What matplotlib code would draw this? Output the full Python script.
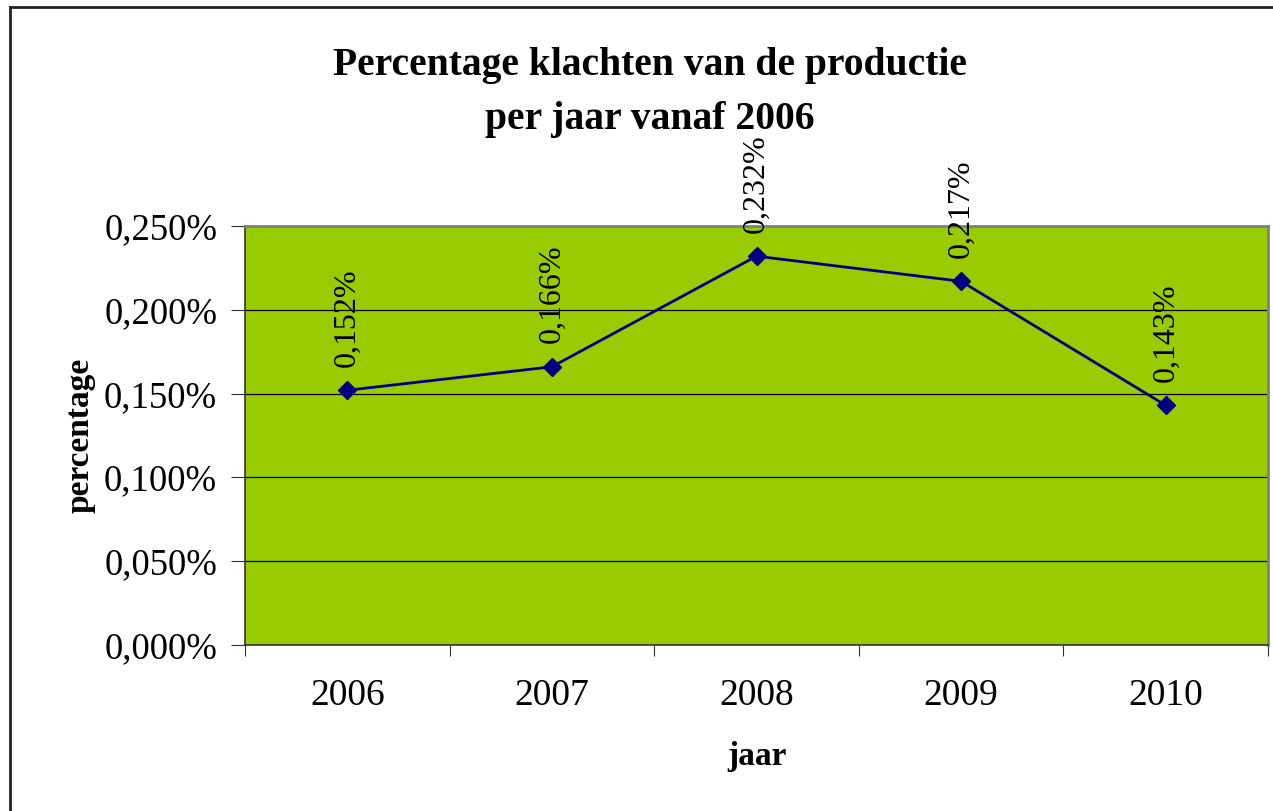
import matplotlib.pyplot as plt
from matplotlib.lines import Line2D

plt.rcParams['font.family'] = ['Liberation Serif', 'DejaVu Serif']

jaren = ['2006', '2007', '2008', '2009', '2010']
percentages = [0.152, 0.166, 0.232, 0.217, 0.143]
labels = ['0,152%', '0,166%', '0,232%', '0,217%', '0,143%']
yticks = [0.0, 0.05, 0.10, 0.15, 0.20, 0.25]
ytick_labels = ['0,000%', '0,050%', '0,100%', '0,150%', '0,200%', '0,250%']

fig = plt.figure(figsize=(12.73, 8.11), dpi=100)
ax = fig.add_axes([245 / 1273, 1 - 645 / 811, (1268 - 245) / 1273, (645 - 226) / 811])
ax.set_facecolor('#99cc00')

x = list(range(len(jaren)))
ax.plot(x, percentages, color='#000080', lw=2, marker='D', ms=9, zorder=3)
for xi, yi, lab in zip(x, percentages, labels):
    ax.annotate(lab, (xi, yi), xytext=(0, 17), textcoords='offset points',
                rotation=90, ha='center', va='bottom', fontsize=23,
                annotation_clip=False)

ax.set_xlim(-0.5, len(jaren) - 0.5)
ax.set_ylim(0, 0.25)
ax.set_yticks(yticks)
ax.set_yticklabels(ytick_labels, fontsize=26.5)
ax.set_xticks([i - 0.5 for i in range(len(jaren) + 1)])
ax.set_xticklabels([])
ax.set_xticks(x, minor=True)
ax.set_xticklabels(jaren, minor=True, fontsize=27)
ax.tick_params(axis='x', which='minor', length=0, pad=24)
ax.tick_params(axis='x', which='major', length=8, direction='out', color='#333333')
ax.tick_params(axis='y', length=10, direction='out', color='#333333', pad=10)
ax.grid(axis='y', color='black', lw=0.9)
ax.set_axisbelow(True)

for s in ['top', 'right']:
    ax.spines[s].set_color('#808080')
    ax.spines[s].set_linewidth(2)
for s in ['left', 'bottom']:
    ax.spines[s].set_color('#333333')
    ax.spines[s].set_linewidth(1.2)

ax.set_ylabel('percentage', fontsize=24, fontweight='bold', labelpad=6)
ax.set_xlabel('jaar', fontsize=24, fontweight='bold', labelpad=20)

fig.text(650 / 1273, 1 - 66 / 811, 'Percentage klachten van de productie',
         ha='center', va='center', fontsize=28.5, fontweight='bold')
fig.text(650 / 1273, 1 - 120 / 811, 'per jaar vanaf 2006',
         ha='center', va='center', fontsize=28.5, fontweight='bold')

fig.add_artist(Line2D([10 / 1273, 10 / 1273], [0, 1 - 7 / 811], color='#222222', lw=2))
fig.add_artist(Line2D([10 / 1273, 1], [1 - 7 / 811, 1 - 7 / 811], color='#222222', lw=2))

fig.savefig('out.png', dpi=100)
